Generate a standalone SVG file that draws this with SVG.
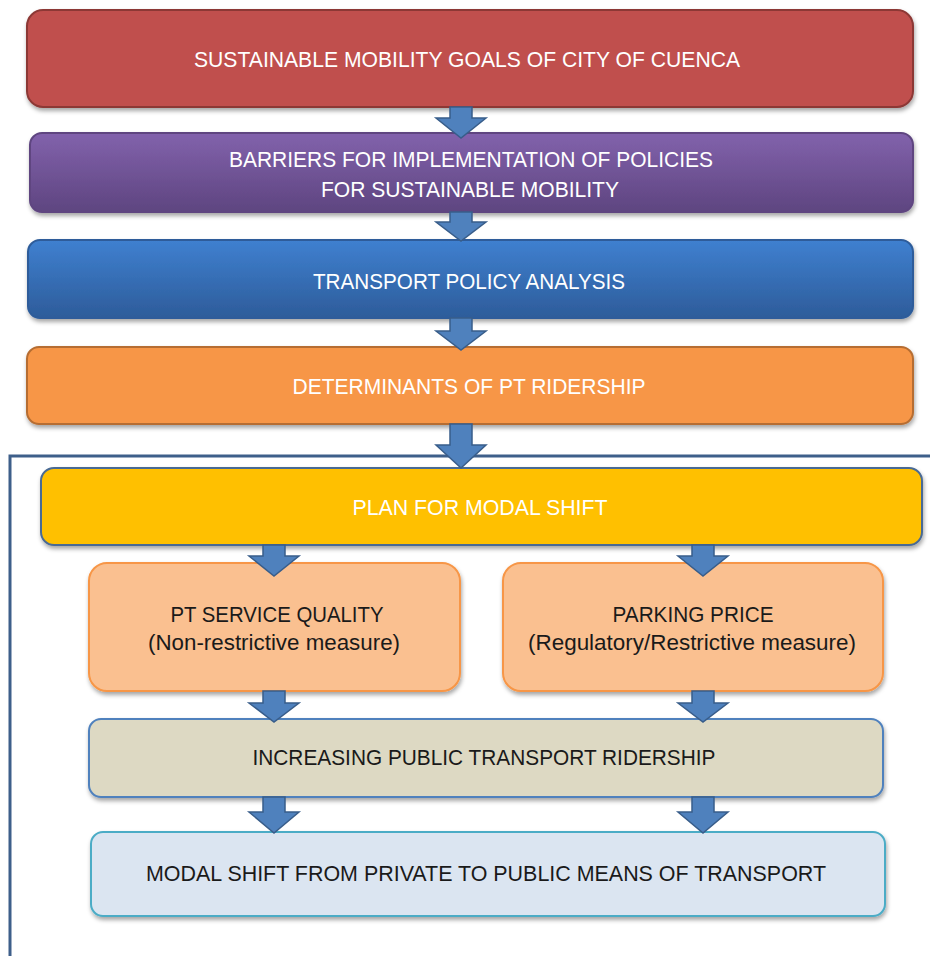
<svg xmlns="http://www.w3.org/2000/svg" width="930" height="956" viewBox="0 0 930 956">
  <defs>
    <filter id="shadow" x="-5%" y="-20%" width="110%" height="150%">
      <feDropShadow dx="1" dy="3" stdDeviation="2" flood-color="#000" flood-opacity="0.35"/>
    </filter>
    <linearGradient id="gPurple" x1="0" y1="0" x2="0" y2="1">
      <stop offset="0" stop-color="#8262ac"/>
      <stop offset="1" stop-color="#5e4580"/>
    </linearGradient>
    <linearGradient id="gBlue" x1="0" y1="0" x2="0" y2="1">
      <stop offset="0" stop-color="#3f80d0"/>
      <stop offset="1" stop-color="#2d5c9a"/>
    </linearGradient>
  </defs>
  <style>
    .box { filter: url(#shadow); stroke-width: 2; }
    .lbl { font-family: "Liberation Sans", Arial, sans-serif; font-size: 21.5px; text-anchor: middle; }
    .light { fill: #ffffff; }
    .dark { fill: #1a1a1a; }
    .arrow { fill: #4f81bd; stroke: #385d8a; stroke-width: 1.5; stroke-linejoin: miter; }
    .frame { fill: none; stroke: #3e5f8a; stroke-width: 3; }
  </style>

  <rect width="930" height="956" fill="#ffffff"/>

  <!-- frame around the modal shift plan -->
  <polyline class="frame" points="932,456 10,456 10,958"/>

  <g id="goals">
    <rect class="box" x="27" y="10" width="886" height="97" rx="16" fill="#c0504d" stroke="#8c3836"/>
    <text class="lbl light" x="467" y="67" textLength="546" lengthAdjust="spacingAndGlyphs">SUSTAINABLE MOBILITY  GOALS OF CITY OF CUENCA</text>
  </g>

  <g id="barriers">
    <rect class="box" x="30" y="133" width="883" height="79" rx="12" fill="url(#gPurple)" stroke="#5e4580" stroke-width="1"/>
    <text class="lbl light" x="471" y="167" textLength="484" lengthAdjust="spacingAndGlyphs">BARRIERS FOR IMPLEMENTATION  OF POLICIES</text>
    <text class="lbl light" x="470" y="197" textLength="298" lengthAdjust="spacingAndGlyphs">FOR SUSTAINABLE MOBILITY</text>
  </g>

  <g id="analysis">
    <rect class="box" x="28" y="240" width="885" height="78" rx="12" fill="url(#gBlue)" stroke="#2d5c9a" stroke-width="1"/>
    <text class="lbl light" x="469" y="289" textLength="312" lengthAdjust="spacingAndGlyphs">TRANSPORT POLICY ANALYSIS</text>
  </g>

  <g id="determinants">
    <rect class="box" x="27" y="347" width="886" height="77" rx="12" fill="#f79646" stroke="#b66d31"/>
    <text class="lbl light" x="469" y="394" textLength="353" lengthAdjust="spacingAndGlyphs">DETERMINANTS  OF PT RIDERSHIP</text>
  </g>

  <g id="plan">
    <rect class="box" x="41" y="468" width="881" height="77" rx="13" fill="#ffc000" stroke="#4a6a94"/>
    <text class="lbl light" x="480" y="515" textLength="255" lengthAdjust="spacingAndGlyphs">PLAN FOR MODAL SHIFT</text>
  </g>

  <g id="service-quality">
    <rect class="box" x="89" y="563" width="371" height="128" rx="18" fill="#fac090" stroke="#f79646"/>
    <text class="lbl dark" x="277" y="622" textLength="213" lengthAdjust="spacingAndGlyphs">PT SERVICE QUALITY</text>
    <text class="lbl dark" x="274" y="650" textLength="252" lengthAdjust="spacingAndGlyphs">(Non-restrictive measure)</text>
  </g>

  <g id="parking-price">
    <rect class="box" x="503" y="563" width="380" height="128" rx="18" fill="#fac090" stroke="#f79646"/>
    <text class="lbl dark" x="693" y="622" textLength="161" lengthAdjust="spacingAndGlyphs">PARKING PRICE</text>
    <text class="lbl dark" x="692" y="650" textLength="328" lengthAdjust="spacingAndGlyphs">(Regulatory/Restrictive measure)</text>
  </g>

  <g id="ridership">
    <rect class="box" x="89" y="719" width="794" height="78" rx="12" fill="#ddd9c3" stroke="#4f81bd"/>
    <text class="lbl dark" x="484" y="765" textLength="463" lengthAdjust="spacingAndGlyphs">INCREASING  PUBLIC TRANSPORT RIDERSHIP</text>
  </g>

  <g id="modal-shift">
    <rect class="box" x="91" y="832" width="794" height="84" rx="12" fill="#dbe5f1" stroke="#4bacc6"/>
    <text class="lbl dark" x="486" y="881" textLength="680" lengthAdjust="spacingAndGlyphs">MODAL SHIFT FROM PRIVATE TO PUBLIC MEANS OF TRANSPORT</text>
  </g>

  <!-- block arrows between stages -->
  <g id="connectors">
    <path class="arrow" d="M450,107 H472 V118 H486 L461,138 L436,118 H450 Z"/>
    <path class="arrow" d="M450,212 H472 V222 H486 L461,241 L436,222 H450 Z"/>
    <path class="arrow" d="M450,318 H472 V331 H486 L461,350 L436,331 H450 Z"/>
    <path class="arrow" d="M450,424 H472 V445 H486 L461,468 L436,445 H450 Z"/>
    <path class="arrow" d="M263,545 H285 V556 H299 L274,576 L249,556 H263 Z"/>
    <path class="arrow" d="M692,545 H714 V556 H728 L703,576 L678,556 H692 Z"/>
    <path class="arrow" d="M263,691 H285 V703 H299 L274,722 L249,703 H263 Z"/>
    <path class="arrow" d="M692,691 H714 V703 H728 L703,722 L678,703 H692 Z"/>
    <path class="arrow" d="M263,797 H285 V812 H299 L274,833 L249,812 H263 Z"/>
    <path class="arrow" d="M692,797 H714 V812 H728 L703,833 L678,812 H692 Z"/>
  </g>
</svg>
